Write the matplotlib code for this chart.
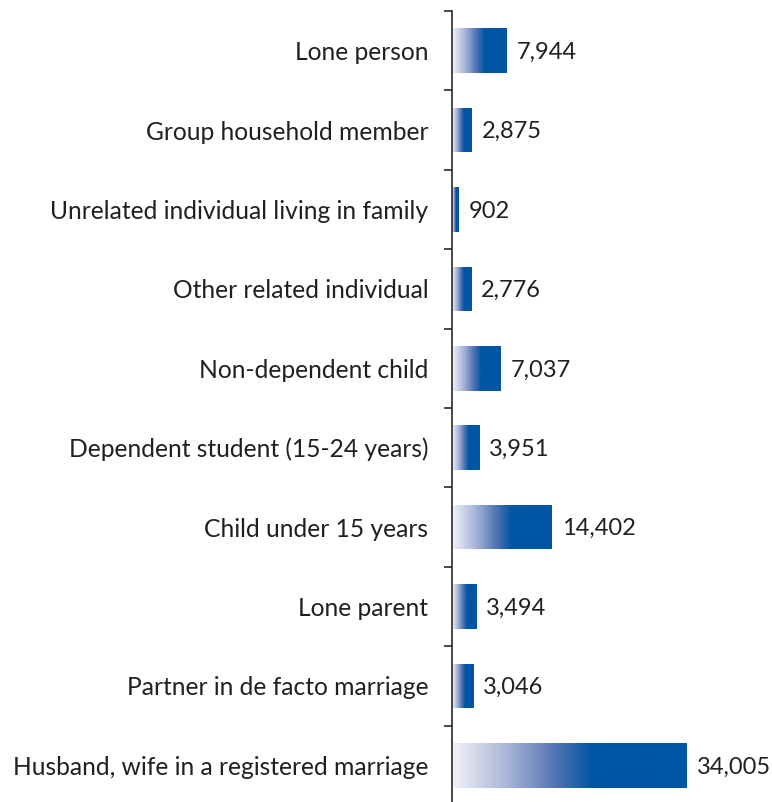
import numpy as np
import matplotlib
matplotlib.use("Agg")
import matplotlib.pyplot as plt
from matplotlib.colors import LinearSegmentedColormap

categories = [
    "Lone person",
    "Group household member",
    "Unrelated individual living in family",
    "Other related individual",
    "Non-dependent child",
    "Dependent student (15-24 years)",
    "Child under 15 years",
    "Lone parent",
    "Partner in de facto marriage",
    "Husband, wife in a registered marriage",
]
counts = [7944, 2875, 902, 2776, 7037, 3951, 14402, 3494, 3046, 34005]

plt.rcParams["font.family"] = ["Lato", "DejaVu Sans"]
TEXT = "#231f20"
BLUE = "#0055a4"
FS_CAT = 17.7
FS_VAL = 17

W, H, DPI = 772, 802, 100
fig = plt.figure(figsize=(W / DPI, H / DPI), dpi=DPI)

ax_left, ax_right = 452, 687
ax_top, ax_bottom = 11, 805
ax = fig.add_axes([ax_left / W, (H - ax_bottom) / H,
                   (ax_right - ax_left) / W, (ax_bottom - ax_top) / H])

n = len(categories)
ypos = np.arange(n)

# gradient: pale at the base, full blue from ~60% of the bar length onward
cmap = LinearSegmentedColormap.from_list(
    "bar_grad", [(0.0, "#f2f3f9"), (0.25, "#a3b0d6"), (0.45, "#4d72b2"),
                 (0.6, BLUE), (1.0, BLUE)], N=256)
grad = np.linspace(0, 1, 256).reshape(1, -1)

bar_h = 0.56
bars = ax.barh(ypos, counts, height=bar_h, color="none", edgecolor="none")
for rect, v in zip(bars, counts):
    y0 = rect.get_y()
    im = ax.imshow(grad, cmap=cmap, aspect="auto", interpolation="bilinear",
                   extent=(0, v, y0 + bar_h, y0), zorder=2)
    im.set_clip_path(rect)
    ax.text(v + max(counts) * 0.043, y0 + bar_h / 2 + 0.02,
            f"{v:,}", va="center", ha="left", fontsize=FS_VAL, color=TEXT,
            clip_on=False)

ax.set_xlim(0, max(counts))
ax.set_ylim(n - 0.5, -0.5)

for s in ["top", "right", "bottom"]:
    ax.spines[s].set_visible(False)
ax.spines["left"].set_color("#2a2a2a")
ax.spines["left"].set_linewidth(1.2)
ax.set_xticks([])

ax.set_yticks(ypos)
ax.set_yticklabels(categories, fontsize=FS_CAT, color=TEXT)
ax.tick_params(axis="y", which="major", length=0, pad=17)
ax.set_yticks(np.arange(-0.5, n, 1.0), minor=True)
ax.tick_params(axis="y", which="minor", length=6, width=1.2, color="#2a2a2a",
               direction="out")

fig.savefig("out.png", dpi=DPI)
